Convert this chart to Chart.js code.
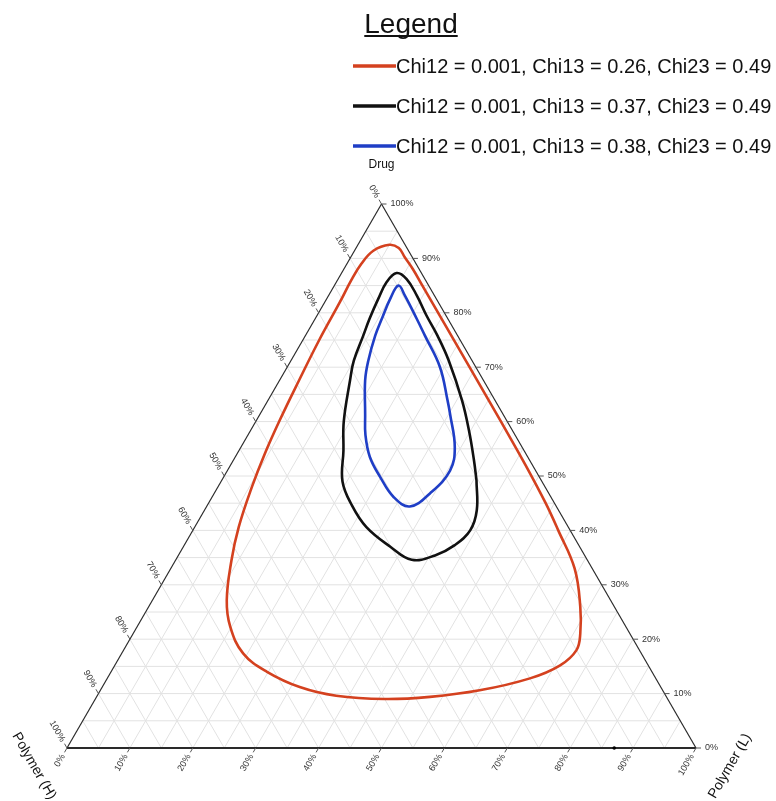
<!DOCTYPE html>
<html>
<head>
<meta charset="utf-8">
<title>Ternary phase diagram</title>
<script src="https://cdn.jsdelivr.net/npm/chart.js@4.4.1/dist/chart.umd.min.js"></script>
<style>
  html, body { margin: 0; padding: 0; background: #ffffff; }
  #wrap { width: 776px; height: 801px; }
</style>
</head>
<body>
<div id="wrap"><canvas id="ternary" width="776" height="801"></canvas></div>
<script>
// series (drug %, polymer L % ; polymer H = rest)
const seriesLabels = [
    'Chi12 = 0.001, Chi13 = 0.26, Chi23 = 0.49',
    'Chi12 = 0.001, Chi13 = 0.37, Chi23 = 0.49',
    'Chi12 = 0.001, Chi13 = 0.38, Chi23 = 0.49'
];
const seriesColors = ['#d4411f', '#111111', '#1f3ec6'];

const redDrug = [60.0, 52.0, 45.0, 40.0, 33.0, 26.0, 21.0, 18.0, 15.2, 12.8, 10.6, 9.4, 9.0, 9.6, 11.2, 14.0, 17.4, 22.3, 27.2, 34.5, 40.6, 48.0, 54.1, 60.2, 67.6, 75.0, 82.0, 86.0, 89.0, 91.4, 92.5, 91.9, 90.2, 88.0, 85.0, 78.0, 70.0, 60.0];
const redPolyL = [39.0, 46.9, 53.6, 58.1, 64.2, 68.6, 71.1, 72.0, 70.8, 67.2, 60.3, 53.0, 46.0, 38.0, 31.4, 24.8, 19.3, 14.8, 11.8, 8.9, 7.0, 5.4, 4.4, 3.7, 3.1, 2.6, 2.4, 2.2, 2.3, 3.0, 5.0, 6.8, 8.6, 11.0, 14.0, 21.0, 29.0, 39.0];

const blackDrug = [49.2, 43.7, 40.0, 37.3, 35.4, 34.6, 37.0, 40.6, 44.6, 49.0, 54.7, 60.0, 67.6, 71.2, 75.8, 78.9, 82.6, 85.6, 87.3, 86.2, 83.2, 79.5, 75.8, 71.2, 63.9, 58.4, 52.9, 49.2];
const blackPolyL = [40.5, 43.3, 44.1, 43.0, 40.8, 37.5, 32.9, 27.3, 23.0, 19.3, 16.6, 14.0, 11.2, 10.0, 9.2, 8.65, 8.2, 8.0, 8.75, 10.9, 14.0, 17.4, 21.0, 25.1, 30.85, 34.7, 38.25, 40.5];

const blueDrug = [61.4, 67.6, 71.2, 75.8, 78.9, 82.6, 85.0, 83.2, 78.9, 75.8, 70.0, 63.9, 61.4, 55.3, 51.0, 46.8, 44.4, 46.1, 49.8, 53.5, 57.5, 61.4];
const bluePolyL = [16.7, 13.6, 12.3, 11.1, 10.6, 10.1, 10.2, 12.1, 16.15, 19.0, 24.3, 28.55, 30.2, 34.0, 35.4, 34.3, 32.3, 28.9, 24.9, 21.4, 18.7, 16.7];

// lone marker sitting on the bottom axis
const dotDrug = [0];
const dotPolyL = [87];

const tickValues = [0, 10, 20, 30, 40, 50, 60, 70, 80, 90, 100];
const tickLabels = tickValues.map(v => v + '%');
const gridValues = [5, 10, 15, 20, 25, 30, 35, 40, 45, 50, 55, 60, 65, 70, 75, 80, 85, 90, 95];
const axisTitles = { drug: 'Drug', polyL: 'Polymer (L)', polyH: 'Polymer (H)' };

const FONT = "'Liberation Sans', Arial, Helvetica, sans-serif";

// ternary -> cartesian (x in 0..100 along the base, y = drug %)
const toXY = (drug, polyL) => drug.map((d, i) => ({ x: polyL[i] + d / 2, y: d }));

const pixelFor = chart => (d, l) => ({
    x: chart.scales.x.getPixelForValue(l + d / 2),
    y: chart.scales.y.getPixelForValue(d)
});

const line = (ctx, a, b) => {
    ctx.beginPath();
    ctx.moveTo(a.x, a.y);
    ctx.lineTo(b.x, b.y);
    ctx.stroke();
};

const rotatedText = (ctx, text, x, y, angle, align) => {
    ctx.save();
    ctx.translate(x, y);
    ctx.rotate(angle);
    ctx.textAlign = align;
    ctx.textBaseline = 'middle';
    ctx.fillText(text, 0, 0);
    ctx.restore();
};

const ternaryFrame = {
    id: 'ternaryFrame',
    beforeDatasetsDraw(chart) {
        const ctx = chart.ctx;
        const px = pixelFor(chart);
        ctx.save();
        ctx.strokeStyle = '#e2e2e2';
        ctx.lineWidth = 1;
        gridValues.forEach(v => {
            line(ctx, px(v, 0), px(v, 100 - v));           // constant drug
            line(ctx, px(0, v), px(100 - v, v));           // constant polymer L
            line(ctx, px(0, 100 - v), px(100 - v, 0));     // constant polymer H
        });
        const top = px(100, 0), left = px(0, 0), right = px(0, 100);
        ctx.strokeStyle = '#2a2a2a';
        ctx.lineWidth = 1.2;
        line(ctx, left, top);
        line(ctx, top, right);
        ctx.lineWidth = 2;
        line(ctx, left, right);
        ctx.restore();
    },
    afterDraw(chart) {
        const ctx = chart.ctx;
        const px = pixelFor(chart);
        const c60 = 0.5, s60 = Math.sqrt(3) / 2;
        ctx.save();
        ctx.font = '9px ' + FONT;
        ctx.fillStyle = '#333333';
        ctx.strokeStyle = '#555555';
        ctx.lineWidth = 1;

        tickValues.forEach((v, i) => {
            // drug axis (right edge), horizontal ticks
            const r = px(v, 100 - v);
            line(ctx, r, { x: r.x + 5, y: r.y });
            ctx.textAlign = 'left';
            ctx.textBaseline = 'middle';
            ctx.fillText(tickLabels[i], r.x + 9, r.y);

            // polymer L axis (bottom edge), ticks down-left
            const b = px(0, v);
            line(ctx, b, { x: b.x - c60 * 5, y: b.y + s60 * 5 });
            rotatedText(ctx, tickLabels[i], b.x - c60 * 8, b.y + s60 * 8, -Math.PI / 3, 'right');

            // polymer H axis (left edge), ticks up-left
            const l = px(100 - v, 0);
            line(ctx, l, { x: l.x - c60 * 5, y: l.y - s60 * 5 });
            rotatedText(ctx, tickLabels[i], l.x - c60 * 8, l.y - s60 * 8, Math.PI / 3, 'right');
        });

        // axis titles
        const apex = px(100, 0);
        ctx.fillStyle = '#111111';
        ctx.font = '12px ' + FONT;
        ctx.textAlign = 'center';
        ctx.textBaseline = 'middle';
        ctx.fillText(axisTitles.drug, apex.x, 165);
        ctx.font = '14px ' + FONT;
        rotatedText(ctx, axisTitles.polyH, 34, 766, Math.PI / 3, 'center');
        rotatedText(ctx, axisTitles.polyL, 730, 766, -Math.PI / 3, 'center');

        // legend
        ctx.font = '28px ' + FONT;
        ctx.textAlign = 'center';
        ctx.textBaseline = 'alphabetic';
        ctx.fillText('Legend', 411, 33);
        const w = ctx.measureText('Legend').width;
        ctx.strokeStyle = '#111111';
        ctx.lineWidth = 2;
        line(ctx, { x: 411 - w / 2, y: 36 }, { x: 411 + w / 2, y: 36 });

        ctx.font = '20px ' + FONT;
        ctx.textAlign = 'left';
        ctx.textBaseline = 'middle';
        seriesLabels.forEach((label, i) => {
            const y = 66 + i * 40;
            ctx.strokeStyle = seriesColors[i];
            ctx.lineWidth = 3.5;
            line(ctx, { x: 353, y }, { x: 396, y });
            ctx.fillStyle = '#111111';
            ctx.fillText(label, 396, y + 1);
        });
        ctx.restore();
    }
};

const curve = (label, color, data) => ({
    label,
    data,
    showLine: true,
    borderColor: color,
    backgroundColor: color,
    borderWidth: 2.6,
    pointRadius: 0,
    tension: 0.4,
    fill: false
});

new Chart(document.getElementById('ternary'), {
    type: 'scatter',
    data: {
        datasets: [
            curve(seriesLabels[0], seriesColors[0], toXY(redDrug, redPolyL)),
            curve(seriesLabels[1], seriesColors[1], toXY(blackDrug, blackPolyL)),
            curve(seriesLabels[2], seriesColors[2], toXY(blueDrug, bluePolyL)),
            {
                label: 'marker',
                data: toXY(dotDrug, dotPolyL),
                pointRadius: 1.8,
                backgroundColor: '#000000',
                borderWidth: 0
            }
        ]
    },
    options: {
        responsive: false,
        animation: false,
        devicePixelRatio: 1,
        layout: { padding: { left: 67, right: 80, top: 204, bottom: 53 } },
        scales: {
            x: { type: 'linear', min: 0, max: 100, display: false },
            y: { type: 'linear', min: 0, max: 100, display: false }
        },
        plugins: {
            legend: { display: false },
            tooltip: { enabled: false }
        },
        clip: false
    },
    plugins: [ternaryFrame]
});
</script>
</body>
</html>
